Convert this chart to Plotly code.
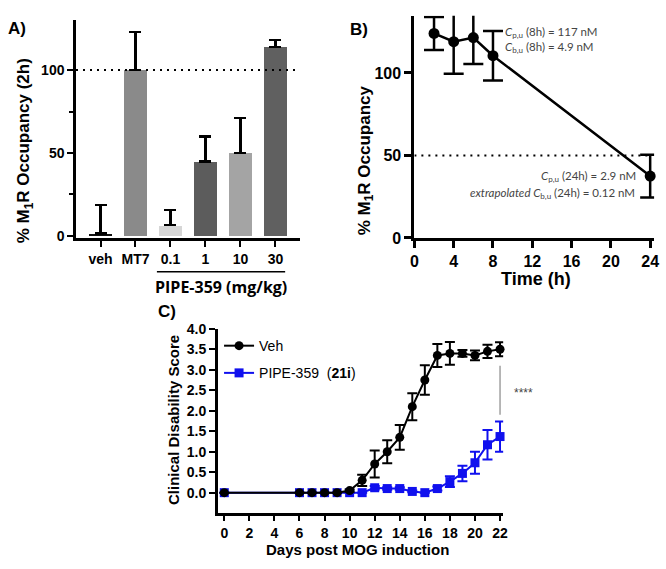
import plotly.graph_objects as go

# ---------------- data ----------------
a_categories = ["veh", "MT7", "0.1", "1", "10", "30"]
a_occupancy = [1.5, 100, 6.5, 45, 50, 114]
a_err_plus = [17, 23, 9, 15, 21, 4]

b_time = [2, 4, 6, 8, 24]
b_occupancy = [124, 119, 121.5, 110.5, 37.5]
b_err = [10, 19.5, 16, 15, 13]

c_days = [0, 6, 7, 8, 9, 10, 11, 12, 13, 14, 15, 16, 17, 18, 19, 20, 21, 22]
c_veh = [0, 0, 0, 0, 0, 0.05, 0.3, 0.7, 1.0, 1.35, 2.1, 2.75, 3.35, 3.4, 3.4, 3.35, 3.45, 3.5]
c_veh_err = [0, 0, 0, 0, 0, 0.03, 0.14, 0.33, 0.28, 0.3, 0.33, 0.36, 0.28, 0.28, 0.08, 0.12, 0.16, 0.17]
c_pipe = [0, 0, 0, 0, 0, 0, 0, 0.12, 0.1, 0.1, 0.03, 0, 0.1, 0.27, 0.47, 0.73, 1.17, 1.37]
c_pipe_err = [0, 0, 0, 0, 0, 0, 0, 0.04, 0.03, 0.03, 0.02, 0, 0.05, 0.13, 0.19, 0.27, 0.36, 0.37]

# ---------------- styles ----------------
W, H = 666, 569
bar_colors = ["#111111", "#8a8a8a", "#d6d6d6", "#5c5c5c", "#a4a4a4", "#606060"]
FONT = "Arial, Liberation Sans, sans-serif"
SOFT = "Lato, Open Sans, sans-serif"


def px(x):
    return x / W


def py(y):
    return 1 - y / H


fig = go.Figure()

# Panel A: bars with upward error bars
fig.add_trace(go.Bar(
    x=a_categories, y=a_occupancy, marker=dict(color=bar_colors, line=dict(width=0)),
    width=0.66, xaxis="x", yaxis="y", showlegend=False,
    error_y=dict(type="data", symmetric=False, array=a_err_plus,
                 arrayminus=[0] * len(a_err_plus), color="black", thickness=2.5, width=6),
))

# Panel B: time course
fig.add_trace(go.Scatter(
    x=b_time, y=b_occupancy, mode="lines+markers", xaxis="x2", yaxis="y2", showlegend=False,
    line=dict(color="black", width=2.5), marker=dict(color="black", size=11),
    error_y=dict(type="data", array=b_err, color="black", thickness=2.5, width=10),
    cliponaxis=False,
))

# Panel C: EAE scores
fig.add_trace(go.Scatter(
    x=c_days, y=c_pipe, mode="lines+markers", xaxis="x3", yaxis="y3",
    name="PIPE-359  (<b>21i</b>)", legendgroup="pipe", legendrank=2,
    line=dict(color="#1010ee", width=2), marker=dict(color="#1010ee", size=9, symbol="square"),
    error_y=dict(type="data", array=c_pipe_err, color="#1010ee", thickness=2, width=5),
    cliponaxis=False,
))
fig.add_trace(go.Scatter(
    x=c_days, y=c_veh, mode="lines+markers", xaxis="x3", yaxis="y3",
    name="Veh", legendgroup="veh", legendrank=1,
    line=dict(color="black", width=2), marker=dict(color="black", size=9, symbol="circle"),
    error_y=dict(type="data", array=c_veh_err, color="black", thickness=2, width=5),
    cliponaxis=False,
))

tickfont_a = dict(family=FONT, size=14, color="black", weight="bold")
tickfont_b = dict(family=FONT, size=16, color="black", weight="bold")
tickfont_c = dict(family=FONT, size=14, color="black", weight="bold")

common = dict(showgrid=False, zeroline=False, showline=True, linecolor="black",
              ticks="outside", tickcolor="black", ticklabeloverflow="allow")

fig.update_layout(
    width=W, height=H, autosize=False,
    margin=dict(l=0, r=0, t=0, b=0),
    paper_bgcolor="white", plot_bgcolor="white",
    bargap=0,
    xaxis=dict(domain=[px(73), px(300)], anchor="y", type="category",
               range=[-0.7, 5.7], tickfont=tickfont_a, linewidth=3, ticklen=6, tickwidth=2,
               **common),
    yaxis=dict(domain=[py(237), py(12)], anchor="x", range=[-1.2, 130.4],
               tickvals=[0, 50, 100], tickfont=tickfont_a, linewidth=2.5, ticklen=6, tickwidth=2,
               minor=dict(tickvals=[25, 75], ticks="outside", ticklen=4, tickwidth=2, tickcolor="black"),
               **common),
    xaxis2=dict(domain=[px(416), px(659)], anchor="y2", range=[0, 24.4],
                tickvals=[0, 4, 8, 12, 16, 20, 24], tickfont=tickfont_b, linewidth=3,
                ticklen=7, tickwidth=2.5, **common),
    yaxis2=dict(domain=[py(237), py(8)], anchor="x2", range=[0, 134.7],
                tickvals=[0, 50, 100], tickfont=tickfont_b, linewidth=3, ticklen=7, tickwidth=2.5,
                **common),
    xaxis3=dict(domain=[px(216.7), px(506)], anchor="y3", range=[-0.52, 22.25],
                tickvals=list(range(0, 23, 2)), tickfont=tickfont_c, linewidth=2.5,
                ticklen=5, tickwidth=2, **common),
    yaxis3=dict(domain=[py(520.7), py(330.7)], anchor="x3", range=[-0.5, 4.0],
                tickvals=[0, 0.5, 1, 1.5, 2, 2.5, 3, 3.5, 4], tickformat=".1f",
                tickfont=tickfont_c, linewidth=2.5, ticklen=6, tickwidth=2, **common),
    legend=dict(x=px(218), y=py(332), xanchor="left", yanchor="top",
                font=dict(family=FONT, size=14, color="black"), bgcolor="rgba(0,0,0,0)",
                traceorder="grouped", tracegroupgap=6, itemwidth=30),
)

shapes = [
    dict(type="line", xref="x domain", yref="y", x0=0, x1=1, y0=100, y1=100,
         line=dict(color="black", width=2, dash="2px,5px")),
    dict(type="line", xref="x2", yref="y2", x0=0, x1=24, y0=50, y1=50,
         line=dict(color="black", width=2, dash="2px,5px")),
    dict(type="line", xref="paper", yref="paper", x0=px(155), x1=px(285), y0=py(272), y1=py(272),
         line=dict(color="black", width=1.5)),
    dict(type="line", xref="x3", yref="y3", x0=22, x1=22, y0=1.9, y1=3.1,
         line=dict(color="#888888", width=1.2)),
]
fig.update_layout(shapes=shapes)

ann_small = dict(family=SOFT, size=11.5, color="#444444")
annotations = [
    dict(text="<b>A)</b>", x=px(2), y=py(21), xanchor="left", yanchor="middle",
         font=dict(family=FONT, size=17, color="black")),
    dict(text="<b>B)</b>", x=px(349), y=py(22), xanchor="left", yanchor="middle",
         font=dict(family=FONT, size=17, color="black")),
    dict(text="<b>C)</b>", x=px(154), y=py(313), xanchor="left", yanchor="middle",
         font=dict(family=FONT, size=17, color="black")),
    dict(text="<b>% M<sub>1</sub>R Occupancy (2h)</b>", x=px(21), y=py(147), textangle=-90,
         xanchor="center", yanchor="middle", font=dict(family=FONT, size=17, color="black")),
    dict(text="<b>% M<sub>1</sub>R Occupancy</b>", x=px(367), y=py(157), textangle=-90,
         xanchor="center", yanchor="middle", font=dict(family=FONT, size=17, color="black")),
    dict(text="<b>PIPE-359 (mg/kg)</b>", x=px(220), y=py(288), xanchor="center", yanchor="middle",
         font=dict(family="Open Sans, sans-serif", size=16, color="black")),
    dict(text="<b>Time (h)</b>", x=px(539), y=py(279), xanchor="center", yanchor="middle",
         font=dict(family=FONT, size=18, color="black")),
    dict(text="<b>Days post MOG induction</b>", x=px(358), y=py(558.5), xanchor="center",
         yanchor="middle", font=dict(family=FONT, size=15, color="black")),
    dict(text="<b>Clinical Disability Score</b>", x=px(172), y=py(425), textangle=-90,
         xanchor="center", yanchor="middle", font=dict(family=FONT, size=15, color="black")),
    dict(text="<i>C</i><sub>p,u</sub> (8h) = 117 nM", x=px(506), y=py(25), xanchor="left",
         yanchor="middle", font=ann_small),
    dict(text="<i>C</i><sub>b,u</sub> (8h) = 4.9 nM", x=px(506), y=py(41), xanchor="left",
         yanchor="middle", font=ann_small),
    dict(text="<i>C</i><sub>p,u</sub> (24h) = 2.9 nM", x=px(643), y=py(174), xanchor="right",
         yanchor="middle", font=ann_small),
    dict(text="<i>extrapolated C</i><sub>b,u</sub> (24h) = 0.12 nM", x=px(642), y=py(191),
         xanchor="right", yanchor="middle", font=ann_small),
    dict(text="****", x=px(527), y=py(397), xanchor="center", yanchor="middle",
         font=dict(family=FONT, size=12, color="#444444")),
]
for a in annotations:
    a.update(xref="paper", yref="paper", showarrow=False)
fig.update_layout(annotations=annotations)

fig.write_html("out.html", config={"displayModeBar": False},
               post_script="document.body.style.margin='0';document.body.style.overflow='hidden';")
